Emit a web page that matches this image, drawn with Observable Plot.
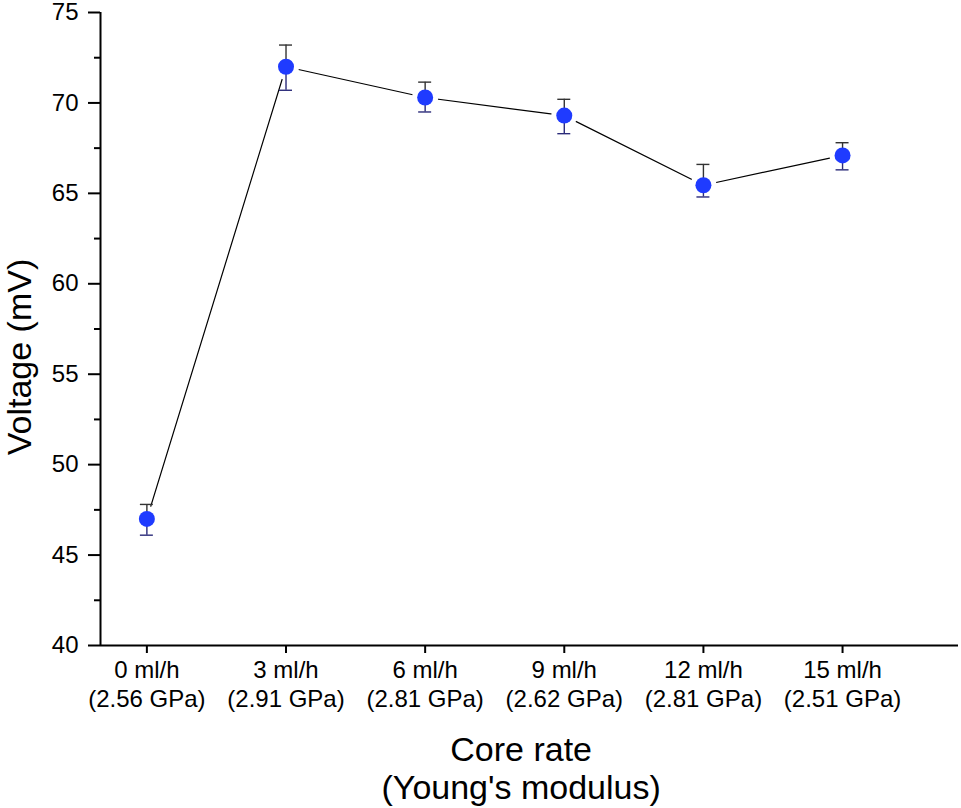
<!DOCTYPE html>
<html>
<head>
<meta charset="utf-8">
<script src="https://cdn.jsdelivr.net/npm/d3@7"></script>
<script src="https://cdn.jsdelivr.net/npm/@observablehq/plot@0.6"></script>
<style>
  html, body { margin: 0; padding: 0; background: #fff; }
  svg { display: block; overflow: visible; }
</style>
</head>
<body>
<div id="chart"></div>
<script>
const rates = [0, 3, 6, 9, 12, 15];
const moduli = ["2.56", "2.91", "2.81", "2.62", "2.81", "2.51"];
const voltage = [47.0, 72.0, 70.3, 69.3, 65.45, 67.1];
const errHigh = [47.8, 73.2, 71.15, 70.2, 66.6, 67.8];
const errLow = [46.1, 70.7, 69.5, 68.3, 64.8, 66.3];
const yMajor = [40, 45, 50, 55, 60, 65, 70, 75];
const yMinor = [42.5, 47.5, 52.5, 57.5, 62.5, 67.5, 72.5];

const data = rates.map((r, i) => ({x: r, v: voltage[i], hi: errHigh[i], lo: errLow[i]}));
const capHalf = 0.14;
const font = "'Liberation Sans', Arial, sans-serif";

const chart = Plot.plot({
  width: 961,
  height: 808,
  marginLeft: 100,
  marginRight: 3,
  marginTop: 12,
  marginBottom: 163,
  style: {fontFamily: font, background: "#fff", color: "#000", overflow: "visible"},
  x: {domain: [-1, 17.5], axis: null},
  y: {domain: [40, 75], axis: null},
  marks: [
    Plot.line(data, {x: "x", y: "v", stroke: "#000", strokeWidth: 1.2}),
    Plot.dot(data, {x: "x", y: "v", r: 13, fill: "#fff", stroke: "none"}),
    // upper error
    Plot.ruleX(data, {x: "x", y1: "v", y2: "hi", stroke: "#333", strokeWidth: 1.4}),
    Plot.ruleY(data, {y: "hi", x1: d => d.x - capHalf, x2: d => d.x + capHalf, stroke: "#333", strokeWidth: 1.4}),
    // lower error
    Plot.ruleX(data, {x: "x", y1: "lo", y2: "v", stroke: "#2b2b7a", strokeWidth: 1.4}),
    Plot.ruleY(data, {y: "lo", x1: d => d.x - capHalf, x2: d => d.x + capHalf, stroke: "#2b2b7a", strokeWidth: 1.4}),
    Plot.dot(data, {x: "x", y: "v", r: 8, fill: "#1f3bff", stroke: "none"}),
    // axes ticks
    Plot.axisY({ticks: yMinor, tickSize: 6, text: null, strokeWidth: 2, label: null}),
    Plot.axisY({ticks: yMajor, tickSize: 12, text: null, strokeWidth: 2, label: null}),
    Plot.axisX({ticks: rates, tickSize: 8, text: null, strokeWidth: 2, label: null}),
    Plot.ruleX([-1], {stroke: "#000", strokeWidth: 2}),
    Plot.ruleY([40], {stroke: "#000", strokeWidth: 2}),
    // tick labels
    Plot.text(yMajor, {frameAnchor: "left", y: d => d, text: d => String(d), dx: -22,
      textAnchor: "end", fontSize: 24, fill: "#000"}),
    Plot.text(rates, {frameAnchor: "bottom", x: d => d, dy: 13, lineAnchor: "top", textAnchor: "middle",
      text: (d, i) => `${d} ml/h\n(${moduli[i]} GPa)`, fontSize: 24, lineHeight: 1.17, fill: "#000"}),
    // axis titles
    Plot.text(["Voltage (mV)"], {frameAnchor: "left", y: () => 55.95, rotate: -90, dx: -70,
      lineAnchor: "bottom", textAnchor: "middle", fontSize: 34, fill: "#000"}),
    Plot.text(["Core rate\n(Young's modulus)"], {frameAnchor: "bottom", x: () => 8.07, dy: 88,
      lineAnchor: "top", textAnchor: "middle", fontSize: 34, lineHeight: 1.12, fill: "#000"})
  ]
});
document.getElementById("chart").appendChild(chart);
</script>
</body>
</html>
